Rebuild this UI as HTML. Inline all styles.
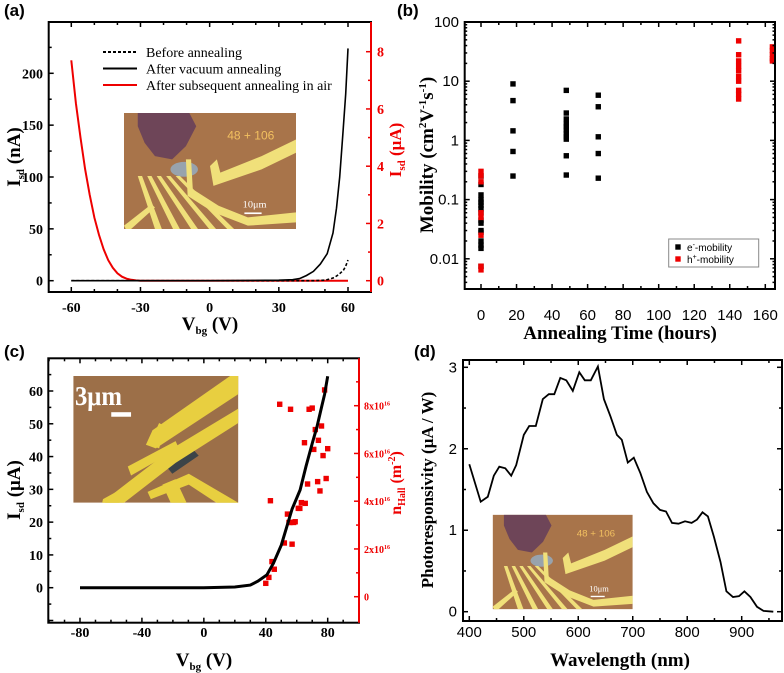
<!DOCTYPE html>
<html><head><meta charset="utf-8"><style>
body{margin:0;background:#fff}
svg{display:block}
.serif{font-family:"Liberation Serif",serif;font-weight:bold}
.sans{font-family:"Liberation Sans",sans-serif}
</style></head><body>
<svg id="fig" width="784" height="673" viewBox="0 0 784 673" xmlns="http://www.w3.org/2000/svg"></svg>
<script>
// ---------- DATA ----------
const aRedV=[-60,-58,-56,-54,-52,-50,-48,-46,-44,-42,-40,-38,-36,-34,-32,-30,0,30,60];
const aRedI=[7.7,6.2,5.0,3.9,3.0,2.2,1.6,1.1,0.72,0.45,0.26,0.14,0.07,0.03,0.01,0,0,0,0];
const aVacV=[-60,0,30,36,39,42,45,48,51,53.5,55,56.4,57.8,59,60];
const aVacI=[0,0,0.5,1,2,5,9,16,26,46,70,100,142,180,224];
const aBefV=[-60,0,45,50,52,54,56,58,59,60];
const aBefI=[0,0,0,0.5,1.5,3,6,10,14,20];
const bElecT=[0,0,0,0,0,0,0,0,0,0,0,0,0,0,0,0,18,18,18,18,18,48,48,48,48,48,48,48,48,48,48,48,66,66,66,66,66];
const bElecM=[0.25,0.18,0.12,0.1,0.09,0.08,0.07,0.06,0.045,0.04,0.03,0.028,0.02,0.017,0.015,0.0075,9,4.7,1.45,0.65,0.25,7,2.9,2.3,1.9,1.7,1.5,1.3,1.15,1.05,0.55,0.26,5.8,3.7,1.15,0.6,0.23];
const bHoleT=[0,0,0,0,0,0,0,0,145,145,145,145,145,145,145,145,145,145,164,164,164,164,164];
const bHoleM=[0.3,0.25,0.2,0.06,0.05,0.025,0.0075,0.0065,48,28,22,18,15,12,10,7,6,5,38,33,28,24,22];
const cCurveV=[-80,0,20,30,35,40.7,45,50,53.6,57,62.2,66,70,73,76,78,80];
const cCurveI=[0,0,0.2,0.8,2,3.9,7.5,13,18.6,24,29.8,37,44,49,55,59,64.5];
const cHallV=[40,42,44,45.5,43,49,52,54,55,56,57,56,58,59,61,62,63,65.5,65,67,68,70,71,72,73.5,74,75,76,77,79,78,80];
const cHallN=[0.56,0.81,1.47,1.15,4.02,8.06,2.25,3.46,3.11,3.11,2.2,7.85,3.11,3.14,3.7,3.7,3.94,3.91,6.45,4.72,7.85,7.9,6.17,7.0,4.82,6.55,4.43,7.15,5.91,4.95,8.66,6.2];
const dWave=[400,421,434,445,455,466,477,486,500,510,522,535,546,556,567,578,590,602,612,623,636,647,659,671,680,691,702,714,726,738,750,761,772,784,796,808,818,828,838,849,861,872,884,895,905,916,928,940,958];
const dResp=[1.81,1.35,1.41,1.67,1.78,1.76,1.67,1.8,2.17,2.28,2.28,2.61,2.67,2.67,2.87,2.84,2.71,2.94,2.84,2.84,3.01,2.61,2.4,2.17,2.11,1.83,1.89,1.7,1.47,1.33,1.25,1.23,1.09,1.08,1.11,1.09,1.13,1.22,1.17,0.92,0.61,0.25,0.18,0.19,0.25,0.18,0.06,0.01,0.0];
const aXTicks=[-60,-30,0,30,60];
const aYTicks=[0,50,100,150,200];
const aRTicks=[0,2,4,6,8];
const bXTicks=[0,20,40,60,80,100,120,140,160];
const bYTicks=[100,10,1,0.1,0.01];
const bYLabels=["100","10","1","0.1","0.01"];
const cXTicks=[-80,-40,0,40,80];
const cYTicks=[0,10,20,30,40,50,60];
const cRTicks=[0,2,4,6,8];
const dXTicks=[400,500,600,700,800,900];
const dYTicks=[0,1,2,3];

// ---------- HELPERS ----------
const NS="http://www.w3.org/2000/svg";
const svg=document.getElementById('fig');
const defs=document.createElementNS(NS,'defs');svg.appendChild(defs);
function mk(tag,attrs,parent){const e=document.createElementNS(NS,tag);for(const k in attrs)e.setAttribute(k,attrs[k]);(parent||svg).appendChild(e);return e;}
function lin(d0,d1,p0,p1){return v=>p0+(v-d0)*(p1-p0)/(d1-d0);}
function txt(s,x,y,cls,size,anchor,fill,rot){const t=mk('text',{x:x,y:y,'class':cls,'font-size':size,'text-anchor':anchor||'middle',fill:fill||'#000'});if(rot)t.setAttribute('transform',`rotate(${rot} ${x} ${y})`);t.innerHTML=s;return t;}
function frame(x0,y0,x1,y1,name){const r=mk('rect',{x:x0,y:y0,width:x1-x0,height:y1-y0,fill:'none',stroke:'#000','stroke-width':2});}
function tick(x1,y1,x2,y2,c){mk('line',{x1:x1,y1:y1,x2:x2,y2:y2,stroke:c||'#000','stroke-width':1.5});}
function poly(xs,ys,sx,sy,attrs,name){const pts=xs.map((v,i)=>sx(v).toFixed(1)+','+sy(ys[i]).toFixed(1)).join(' ');const p=mk('polyline',Object.assign({points:pts,fill:'none'},attrs));return p;}
let clipN=0;
function photo(x,y,w,h,name,variant){
  const cid='clip'+(clipN++);
  const cp=mk('clipPath',{id:cid},defs);mk('rect',{x:0,y:0,width:100,height:70},cp);
  const outer=mk('g',{transform:`translate(${x} ${y}) scale(${w/100} ${h/70})`});
  
  const g=mk('g',{'clip-path':`url(#${cid})`},outer);
  mk('rect',{x:0,y:0,width:100,height:70,fill:variant==='c'?'#9c6f48':'#a8744a'},g);
  if(variant==='c'){
    const y='#e8cf40';
    mk('polygon',{points:'52,45 68,36 76,44 60,54',fill:'#3c4448'},g);
    mk('polygon',{points:'10,100 20,68 60,40 100,18 100,26 62,48 28,72 20,100',fill:y},g);
    mk('polygon',{points:'50,40 100,10 100,0 95,0 48,30 44,38',fill:y},g);
    mk('polygon',{points:'46,38 52,26 56,28 52,40',fill:y},g);
    mk('polygon',{points:'33,50 62,36 64,40 35,55',fill:y},g);
    mk('polygon',{points:'45,64 70,54 100,70 100,78 70,60 47,68',fill:y},g);
    mk('polygon',{points:'54,60 62,57 84,100 74,100',fill:y},g);
    mk('polygon',{points:'18,68 38,58 40,62 25,72 16,100 10,100',fill:y},g);
    mk('rect',{x:23,y:20,width:12,height:2.5,fill:'#fff'},g);
    const t=mk('text',{x:1,y:16,'font-size':15,fill:'#fff','font-family':'Liberation Serif,serif','font-weight':'bold'},g);t.textContent='3μm';
  } else {
    mk('path',{d:'M8,0 L38,0 L42,8 L36,20 L28,28 L18,26 L12,18 L8,8 Z',fill:'#6e4558'},g);
    mk('ellipse',{cx:35,cy:34,rx:8,ry:4.5,fill:'#96a8b8',opacity:0.9},g);
    const y='#f0e07a';
    mk('polygon',{points:'50,32 52,44 80,34 100,24 100,16 80,26 56,36 54,28',fill:y},g);
    mk('polygon',{points:'36,28 39,28 40,46 55,56 72,63 100,60 100,66 72,68 52,60 37,50',fill:y},g);
    for(let i=0;i<5;i++){const o=i*5.5;mk('polygon',{points:`${8+o},38 ${10.5+o},38 ${22+o+i*5},70 ${18+o+i*5},70`,fill:y},g);}
    mk('polygon',{points:'0,68 16,55 18,57 2,72',fill:y},g);
    const t=mk('text',{x:60,y:16,'font-size':7,fill:'#f2c060','font-family':'Liberation Sans,sans-serif'},g);t.textContent='48 + 106';
    mk('rect',{x:70,y:60,width:10,height:1,fill:'#fff'},g);
    const s=mk('text',{x:69,y:57,'font-size':6,fill:'#fff','font-family':'Liberation Serif,serif'},g);s.textContent='10μm';
  }
}
function sq(x,y,c,name){const r=mk('rect',{x:x-2.7,y:y-2.7,width:5.4,height:5.4,fill:c});}

// ---------- PANEL A ----------
{
 const X=lin(-60,60,71.3,348), Y=lin(0,200,280.7,73.3), YR=lin(0,8,280.7,51.7);
 txt('(a)',4,16,'sans',17,'start').setAttribute('font-weight','bold');
 photo(124,113,172,116,'inset-photo-a','a');
 poly(aRedV,aRedI,X,YR,{stroke:'#e00','stroke-width':2},'series-air-annealing');
 poly(aBefV,aBefI,X,Y,{stroke:'#000','stroke-width':1.6,'stroke-dasharray':'3,2'},'series-before-annealing');
 poly(aVacV,aVacI,X,Y,{stroke:'#000','stroke-width':1.6},'series-vacuum-annealing');
 frame(48.7,22,371,292,'plot-frame-a');
 mk('line',{x1:371,y1:22,x2:371,y2:292,stroke:'#e00','stroke-width':2});
 for(let v=-60;v<=60;v+=10){const x=X(v),L=v%30===0?5:3;tick(x,292,x,292-L);tick(x,22,x,22+L);}
 aXTicks.forEach(v=>txt(v,X(v),312,'serif',14));
 for(let v=0;v<=225;v+=25){const y=Y(v),L=v%50===0?5:3;tick(48.7,y,48.7+L,y);}
 aYTicks.forEach(v=>txt(v,43,Y(v)+5,'serif',14,'end'));
 for(let v=0;v<=8;v+=1){const y=YR(v),L=v%2===0?5:3;tick(371,y,371-L,y,'#e00');}
 aRTicks.forEach(v=>txt(v,377,YR(v)+5,'serif',14,'start','#e00'));
 txt('V<tspan font-size="11" dy="4">bg</tspan><tspan dy="-4"> (V)</tspan>',210,330,'serif',19);
 txt('I<tspan font-size="11" dy="4">sd</tspan><tspan dy="-4"> (nA)</tspan>',20,157,'serif',19,'middle','#000',-90);
 txt('I<tspan font-size="11" dy="4">sd</tspan><tspan dy="-4"> (μA)</tspan>',401,150,'serif',17,'middle','#e00',-90);
 const lg=[['Before annealing','#000','3,2'],['After vacuum annealing','#000',''],['After subsequent annealing in air','#e00','']];
 lg.forEach((l,i)=>{const y=52+i*16.5;const ln=mk('line',{x1:103,y1:y,x2:137,y2:y,stroke:l[1],'stroke-width':2,'stroke-dasharray':l[2]});const t=txt(l[0],146,y+5,'serif',14,'start');t.style.fontWeight='normal';});
}
// ---------- PANEL B ----------
{
 const X=lin(0,160,481,765.3); const Y=v=>22+(2-Math.log10(v))*59.2;
 txt('(b)',397,16,'sans',17,'start').setAttribute('font-weight','bold');
 bElecT.forEach((t,i)=>sq(X(t),Y(bElecM[i]),'#000','point-electron'));
 bHoleT.forEach((t,i)=>sq(X(t),Y(bHoleM[i]),'#e00','point-hole'));
 frame(464.7,22,775,289,'plot-frame-b');
 for(let v=0;v<=160;v+=10){const x=X(v),L=v%20===0?5:3;tick(x,289,x,289-L);tick(x,22,x,22+L);}
 bXTicks.forEach(v=>txt(v,X(v),320,'sans',15));
 for(let d=-3;d<2;d++)for(let m=1;m<10;m++){const v=m*Math.pow(10,d);const y=Y(v);if(y<22||y>289)continue;const L=m===1?5:2.5;tick(464.7,y,464.7+L,y);tick(775,y,775-L,y);}
 bYTicks.forEach((v,i)=>txt(bYLabels[i],459,Y(v)+5,'sans',15,'end'));
 txt('Annealing Time (hours)',620,339,'serif',19);
 txt('Mobility (cm<tspan font-size="11" dy="-7">2</tspan><tspan dy="7">V</tspan><tspan font-size="11" dy="-7">-1</tspan><tspan dy="7">s</tspan><tspan font-size="11" dy="-7">-1</tspan><tspan dy="7">)</tspan>',433,155,'serif',19,'middle','#000',-90);
 const lb=mk('rect',{x:668.7,y:239,width:90,height:28,fill:'#fff',stroke:'#888','stroke-width':1});
 sq(678,247,'#000','legend-marker-electron');sq(678,259,'#e00','legend-marker-hole');
 txt('e<tspan font-size="7" dy="-4">-</tspan><tspan dy="4">-mobility</tspan>',687,251,'sans',10,'start');
 txt('h<tspan font-size="7" dy="-4">+</tspan><tspan dy="4">-mobility</tspan>',687,263,'sans',10,'start');
}
// ---------- PANEL C ----------
{
 const X=lin(-80,80,80,327.7), Y=lin(0,60,587.7,391), YR=lin(0,8,596.7,405.7);
 txt('(c)',4,357,'sans',17,'start').setAttribute('font-weight','bold');
 photo(73.3,376,165,126.7,'inset-photo-c','c');
 cHallV.forEach((v,i)=>sq(X(v),YR(cHallN[i]),'#e00','point-nhall'));
 poly(cCurveV,cCurveI,X,Y,{stroke:'#000','stroke-width':3},'series-isd-c');
 frame(48.3,358.3,359,622.7,'plot-frame-c');
 mk('line',{x1:359,y1:358.3,x2:359,y2:622.7,stroke:'#e00','stroke-width':2});
 for(let v=-100;v<=100;v+=10){const x=X(v);if(x<49||x>358)continue;const L=v%40===0?5:3;tick(x,622.7,x,622.7-L);tick(x,358.3,x,358.3+L);}
 cXTicks.forEach(v=>txt(v,X(v),637,'serif',14));
 for(let v=-10;v<=65;v+=5){const y=Y(v),L=v%10===0?5:3;tick(48.3,y,48.3+L,y);}
 cYTicks.forEach(v=>txt(v,43,Y(v)+5,'serif',14,'end'));
 for(let v=0;v<=9;v+=1){const y=YR(v),L=v%2===0?5:3;tick(359,y,359-L,y,'#e00');}
 cRTicks.forEach(v=>txt(v===0?'0':v+'x10<tspan font-size="6" dy="-4">16</tspan>',364,YR(v)+4,'serif',10,'start','#e00'));
 txt('V<tspan font-size="11" dy="4">bg</tspan><tspan dy="-4"> (V)</tspan>',204,666,'serif',19);
 txt('I<tspan font-size="11" dy="4">sd</tspan><tspan dy="-4"> (μA)</tspan>',20,490,'serif',19,'middle','#000',-90);
 txt('n<tspan font-size="10" dy="4">Hall</tspan><tspan dy="-4"> (m</tspan><tspan font-size="10" dy="-6">-2</tspan><tspan dy="6">)</tspan>',401,483,'serif',16,'middle','#e00',-90);
}
// ---------- PANEL D ----------
{
 const X=lin(400,900,469.3,741.7), Y=lin(0,3,611.7,367.3);
 txt('(d)',414,357,'sans',17,'start').setAttribute('font-weight','bold');
 photo(492.7,514.7,140,94.6,'inset-photo-d','a');
 poly(dWave,dResp,X,Y,{stroke:'#000','stroke-width':1.8},'series-photoresponsivity');
 frame(463,360,782,621,'plot-frame-d');
 for(let v=400;v<=950;v+=50){const x=X(v),L=v%100===0?5:3;tick(x,621,x,621-L);tick(x,360,x,360+L);}
 dXTicks.forEach(v=>txt(v,X(v),637,'sans',15));
 for(let v=0;v<=3;v+=0.5){const y=Y(v),L=v%1===0?5:3;tick(463,y,463+L,y);tick(782,y,782-L,y);}
 dYTicks.forEach(v=>txt(v,457,Y(v)+5,'sans',15,'end'));
 txt('Wavelength (nm)',620,666,'serif',19);
 txt('Photoresponsivity (μA / W)',433,490,'serif',17,'middle','#000',-90);
}
</script>
</body></html>
